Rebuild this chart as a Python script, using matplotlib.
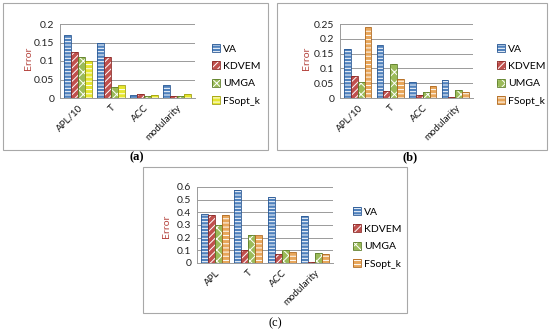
import numpy as np
import matplotlib
matplotlib.use("Agg")
import matplotlib.pyplot as plt
from matplotlib.patches import Patch, Rectangle
from matplotlib.legend_handler import HandlerTuple

plt.rcParams['font.family'] = ['Lato', 'DejaVu Sans']
plt.rcParams['hatch.linewidth'] = 0.7

series = ['VA', 'KDVEM', 'UMGA', 'FSopt_k']

cats_a = ['APL/10', 'T', 'ACC', 'modularity']
va_a = [0.170, 0.150, 0.008, 0.035]
kdvem_a = [0.125, 0.110, 0.010, 0.005]
umga_a = [0.110, 0.030, 0.005, 0.005]
fsopt_a = [0.100, 0.035, 0.008, 0.010]

cats_b = ['APL/10', 'T', 'ACC', 'modularity']
va_b = [0.165, 0.180, 0.055, 0.060]
kdvem_b = [0.075, 0.025, 0.010, 0.003]
umga_b = [0.055, 0.115, 0.020, 0.028]
fsopt_b = [0.240, 0.065, 0.040, 0.020]

cats_c = ['APL', 'T', 'ACC', 'modularity']
va_c = [0.39, 0.58, 0.52, 0.37]
kdvem_c = [0.38, 0.10, 0.07, 0.01]
umga_c = [0.30, 0.22, 0.10, 0.08]
fsopt_c = [0.38, 0.22, 0.09, 0.07]

yticks_a = [0, 0.05, 0.1, 0.15, 0.2]
yticks_b = [0, 0.05, 0.1, 0.15, 0.2, 0.25]
yticks_c = [0, 0.1, 0.2, 0.3, 0.4, 0.5, 0.6]

hatches = ['-----', '/////', 'xxx', '----']
cols_a = ['#4F81BD', '#C0504D', '#9BBB59', '#E6E62E']
cols_bc = ['#4F81BD', '#C0504D', '#9BBB59', '#E8A65A']
edges_a = ['#2C5A95', '#8C2A27', '#5E7F2A', '#A0A010']
edges_bc = ['#2C5A95', '#8C2A27', '#5E7F2A', '#B06A20']

W, H = 550, 333
fig = plt.figure(figsize=(5.5, 3.33), dpi=100)


def fx(px):
    return px / W


def fy(py):
    return 1 - py / H


def panel(rect, cats, data, yticks, cols, edges, leg_xy, err_xy):
    ax = fig.add_axes(rect)
    x = np.arange(len(cats))
    w = 0.21
    for i, vals in enumerate(data):
        pos = x + (i - 1.5) * w
        ax.bar(pos, vals, w, color=cols[i], hatch=hatches[i],
               edgecolor='white', linewidth=0, zorder=3)
        ax.bar(pos, vals, w, fill=False, edgecolor=edges[i],
               linewidth=0.6, zorder=4)
    ax.set_xlim(-0.55, len(cats) - 0.45)
    ax.set_ylim(0, yticks[-1])
    ax.set_yticks(yticks)
    ax.set_yticklabels(['%g' % t for t in yticks], fontsize=7.5, color='#222222')
    ax.set_xticks(x)
    ax.set_xticklabels(cats, rotation=45, ha='right', rotation_mode='anchor',
                       fontsize=7, color='#111111')
    ax.tick_params(length=0, pad=4)
    ax.grid(axis='y', color='#9a9a9a', linewidth=0.7, zorder=0)
    for s in ['top', 'right']:
        ax.spines[s].set_visible(False)
    ax.spines['left'].set_color('#9a9a9a')
    ax.spines['bottom'].set_color('#9a9a9a')
    ax.spines['left'].set_linewidth(0.7)
    ax.spines['bottom'].set_linewidth(0.7)

    handles = [(Patch(facecolor=cols[i], hatch=hatches[i], edgecolor='white', linewidth=0),
                Patch(fill=False, edgecolor=edges[i], linewidth=0.6)) for i in range(4)]
    fig.legend(handles, series, loc='upper left', bbox_to_anchor=leg_xy,
               frameon=False, fontsize=7.5, handlelength=0.8, handleheight=0.8,
               handletextpad=0.3, labelspacing=0.75, borderaxespad=0, borderpad=0,
               handler_map={tuple: HandlerTuple(ndivide=1)})
    fig.text(err_xy[0], err_xy[1], 'Error', rotation=90, fontsize=7.5,
             color='#B5453F', ha='center', va='center')
    return ax


panel([fx(60), fy(98), fx(135), (98 - 24) / H], cats_a,
      [va_a, kdvem_a, umga_a, fsopt_a], yticks_a, cols_a, edges_a,
      (fx(212), fy(44)), (fx(29), fy(58)))
panel([fx(340), fy(98), fx(133), (98 - 24) / H], cats_b,
      [va_b, kdvem_b, umga_b, fsopt_b], yticks_b, cols_bc, edges_bc,
      (fx(497), fy(44)), (fx(306), fy(58)))
panel([fx(197), fy(263), fx(136), (263 - 187) / H], cats_c,
      [va_c, kdvem_c, umga_c, fsopt_c], yticks_c, cols_bc, edges_bc,
      (fx(353), fy(207)), (fx(167), fy(226)))

# panel frames
for x0, y0, x1, y1 in [(3, 3, 268, 150), (277, 3, 547, 150), (143, 167, 407, 313)]:
    fig.add_artist(Rectangle((fx(x0), fy(y1)), fx(x1 - x0), (y1 - y0) / H,
                             transform=fig.transFigure, fill=False,
                             edgecolor='#a8a8a8', linewidth=0.8))

for lab, px, py, wt in [('(a)', 137, 157, 'bold'), ('(b)', 410, 157, 'bold'), ('(c)', 275, 323, 'normal')]:
    fig.text(fx(px), fy(py), lab, ha='center', va='center', fontsize=9,
             family='Liberation Serif', weight=wt)

fig.savefig('out.png', dpi=100)
